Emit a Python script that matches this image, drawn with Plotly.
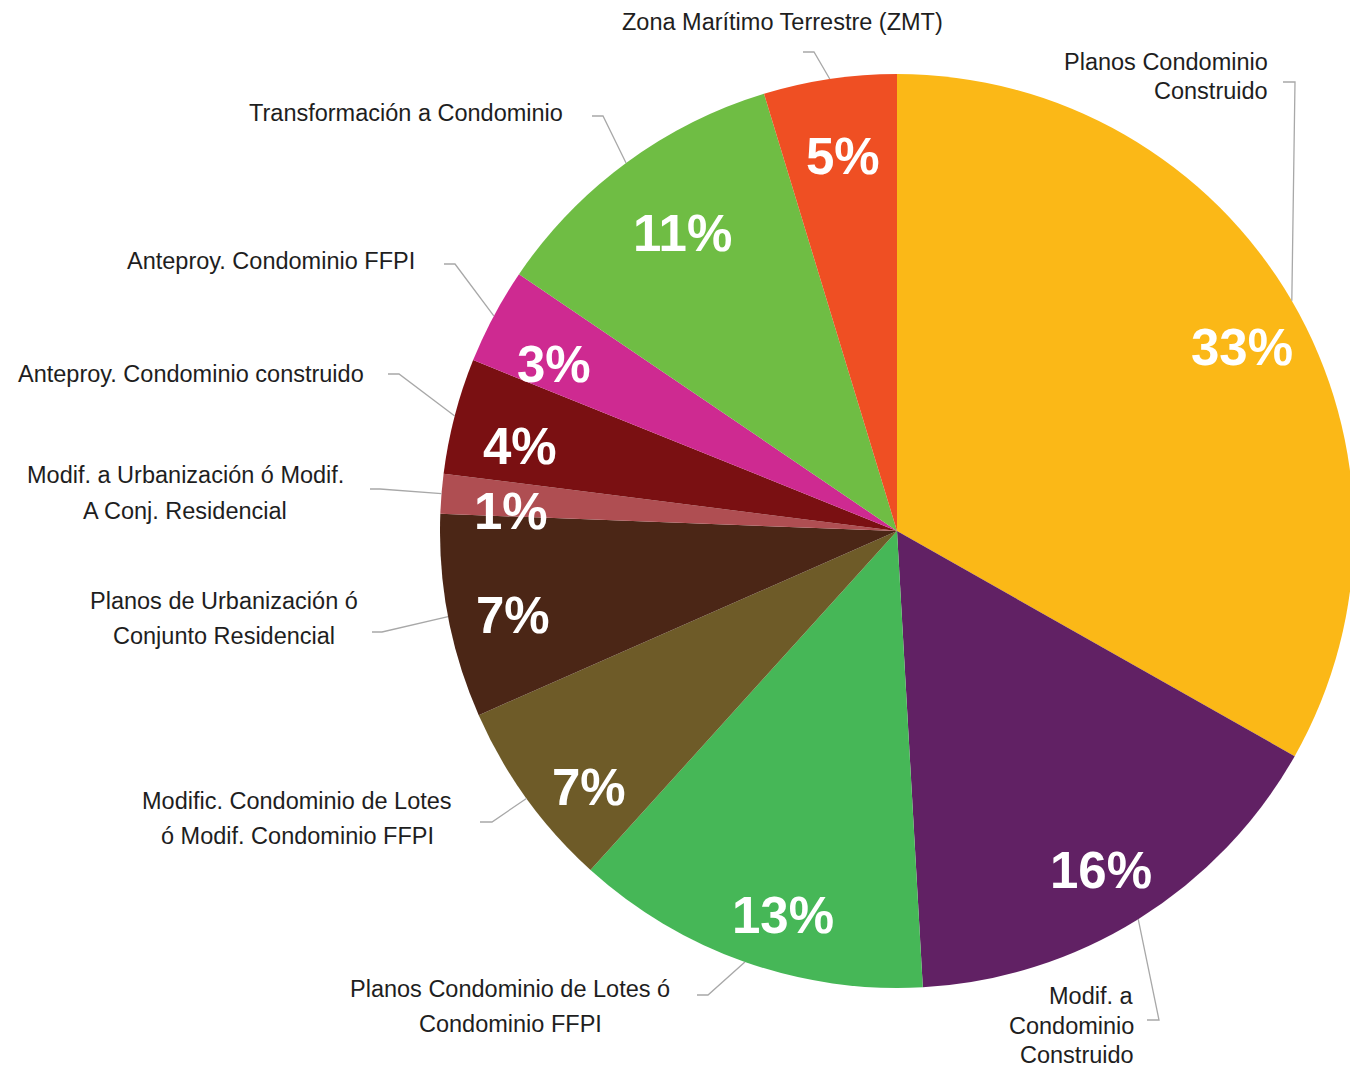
import math
import plotly.graph_objects as go

# ---------------- data ----------------
categories = [
    "Planos Condominio Construido",
    "Modif. a Condominio Construido",
    "Planos Condominio de Lotes ó Condominio FFPI",
    "Modific. Condominio de Lotes ó Modif. Condominio FFPI",
    "Planos de Urbanización ó Conjunto Residencial",
    "Modif. a Urbanización ó Modif. A Conj. Residencial",
    "Anteproy. Condominio construido",
    "Anteproy. Condominio FFPI",
    "Transformación a Condominio",
    "Zona Marítimo Terrestre (ZMT)",
]
values = [33.2, 15.9, 12.6, 6.7, 7.2, 1.4, 4.1, 3.4, 10.8, 4.7]
label_lines = [
    ["Planos Condominio", "Construido"],
    ["Modif. a", "Condominio", "Construido"],
    ["Planos Condominio de Lotes ó", "Condominio FFPI"],
    ["Modific. Condominio de Lotes", "ó Modif. Condominio FFPI"],
    ["Planos de Urbanización ó", "Conjunto Residencial"],
    ["Modif. a Urbanización ó Modif.", "A Conj. Residencial"],
    ["Anteproy. Condominio construido"],
    ["Anteproy. Condominio FFPI"],
    ["Transformación a Condominio"],
    ["Zona Marítimo Terrestre (ZMT)"],
]

# ---------------- styles / layout ----------------
colors = ["#FBB817", "#612164", "#46B757", "#6E5B28", "#4B2616",
          "#AF4E52", "#7A1012", "#CE2A91", "#6FBD44", "#EF4F23"]

OFF = 8  # page body margin
W, H = 1358 - OFF, 1068 - OFF
ML, MT = 440 - OFF, 74 - OFF
PW = PH = 914
MR = W - ML - PW
MB = H - MT - PH
CX, CY = 897, 531  # screen pixels
R = PW / 2


def px(X):
    return (X - OFF - ML) / PW


def py(Y):
    return (MT + PH - (Y - OFF)) / PH


# label layout: (anchor x, align, first-line y, line spacing) in screen pixels
label_layout = [
    (1270, "right", 62, 29),
    (1136, "right", 996, 29.5),
    (510, "center", 989, 35),
    (297, "center", 801, 35),
    (224, "center", 601, 35),
    (185, "center", 475, 36),
    (366, "right", 374, 0),
    (417, "right", 261, 0),
    (565, "right", 113, 0),
    (782, "center", 22, 0),
]
# leader elbow and end points (screen pixels)
leader_pts = [
    ((1295, 82), (1283, 82)),
    ((1159, 1020), (1147, 1020)),
    ((708, 995), (697, 995)),
    ((492, 822), (480, 822)),
    ((382, 632), (372, 632)),
    ((380, 489), (370, 489)),
    ((399, 374), (388, 374)),
    ((455, 264), (444, 264)),
    ((603, 116), (592, 116)),
    ((814, 52), (803, 52)),
]
# percentage label placement: radius (px) and angular nudge (deg)
pct_radius = [391, 396, 401, 401, 393, 386, 386, 381, 367, 378]
pct_dangle = [2.2, 0.8, -2.9, -3.9, -1.6, -1.8, -1.9, -2.2, 0.5, 0.2]

fig = go.Figure(go.Pie(
    labels=categories,
    values=values,
    sort=False,
    direction="clockwise",
    rotation=0,
    marker=dict(colors=colors, line=dict(width=0)),
    textinfo="none",
    hoverinfo="label+percent",
    domain=dict(x=[0, 1], y=[0, 1]),
    showlegend=False,
))

total = sum(values)
annotations = []
shapes = []
cum = 0.0
for i, v in enumerate(values):
    mid = (cum + v / 2) / total * 2 * math.pi
    cum += v
    # percentage label
    rr = pct_radius[i]
    a = mid + math.radians(pct_dangle[i])
    tx = CX + rr * math.sin(a)
    ty = CY - rr * math.cos(a)
    annotations.append(dict(
        x=px(tx), y=py(ty), xref="paper", yref="paper",
        text=f"{round(v / total * 100)}%", showarrow=False,
        xanchor="center", yanchor="middle",
        font=dict(family="Liberation Sans, Arial, sans-serif", size=51,
                  color="white", weight="bold"),
    ))
    # leader line
    ex = CX + R * math.sin(mid)
    ey = CY - R * math.cos(mid)
    (bx, by), (fx, fy) = leader_pts[i]
    path = f"M {px(ex)},{py(ey)} L {px(bx)},{py(by)} L {px(fx)},{py(fy)}"
    shapes.append(dict(type="path", xref="paper", yref="paper", path=path,
                       line=dict(color="#A8A8A8", width=1.3)))
    # outside category label
    ax, align, y0, dy = label_layout[i]
    for j, line in enumerate(label_lines[i]):
        annotations.append(dict(
            x=px(ax), y=py(y0 + j * dy), xref="paper", yref="paper",
            text=line, showarrow=False, xanchor=align, yanchor="middle",
            font=dict(family="Liberation Sans, Arial, sans-serif", size=23.5,
                      color="#1E1E1E"),
        ))

fig.update_layout(
    width=W, height=H,
    margin=dict(l=ML, r=MR, t=MT, b=MB, autoexpand=False),
    paper_bgcolor="white", plot_bgcolor="white",
    annotations=annotations, shapes=shapes,
)

fig.write_html("out.html")
